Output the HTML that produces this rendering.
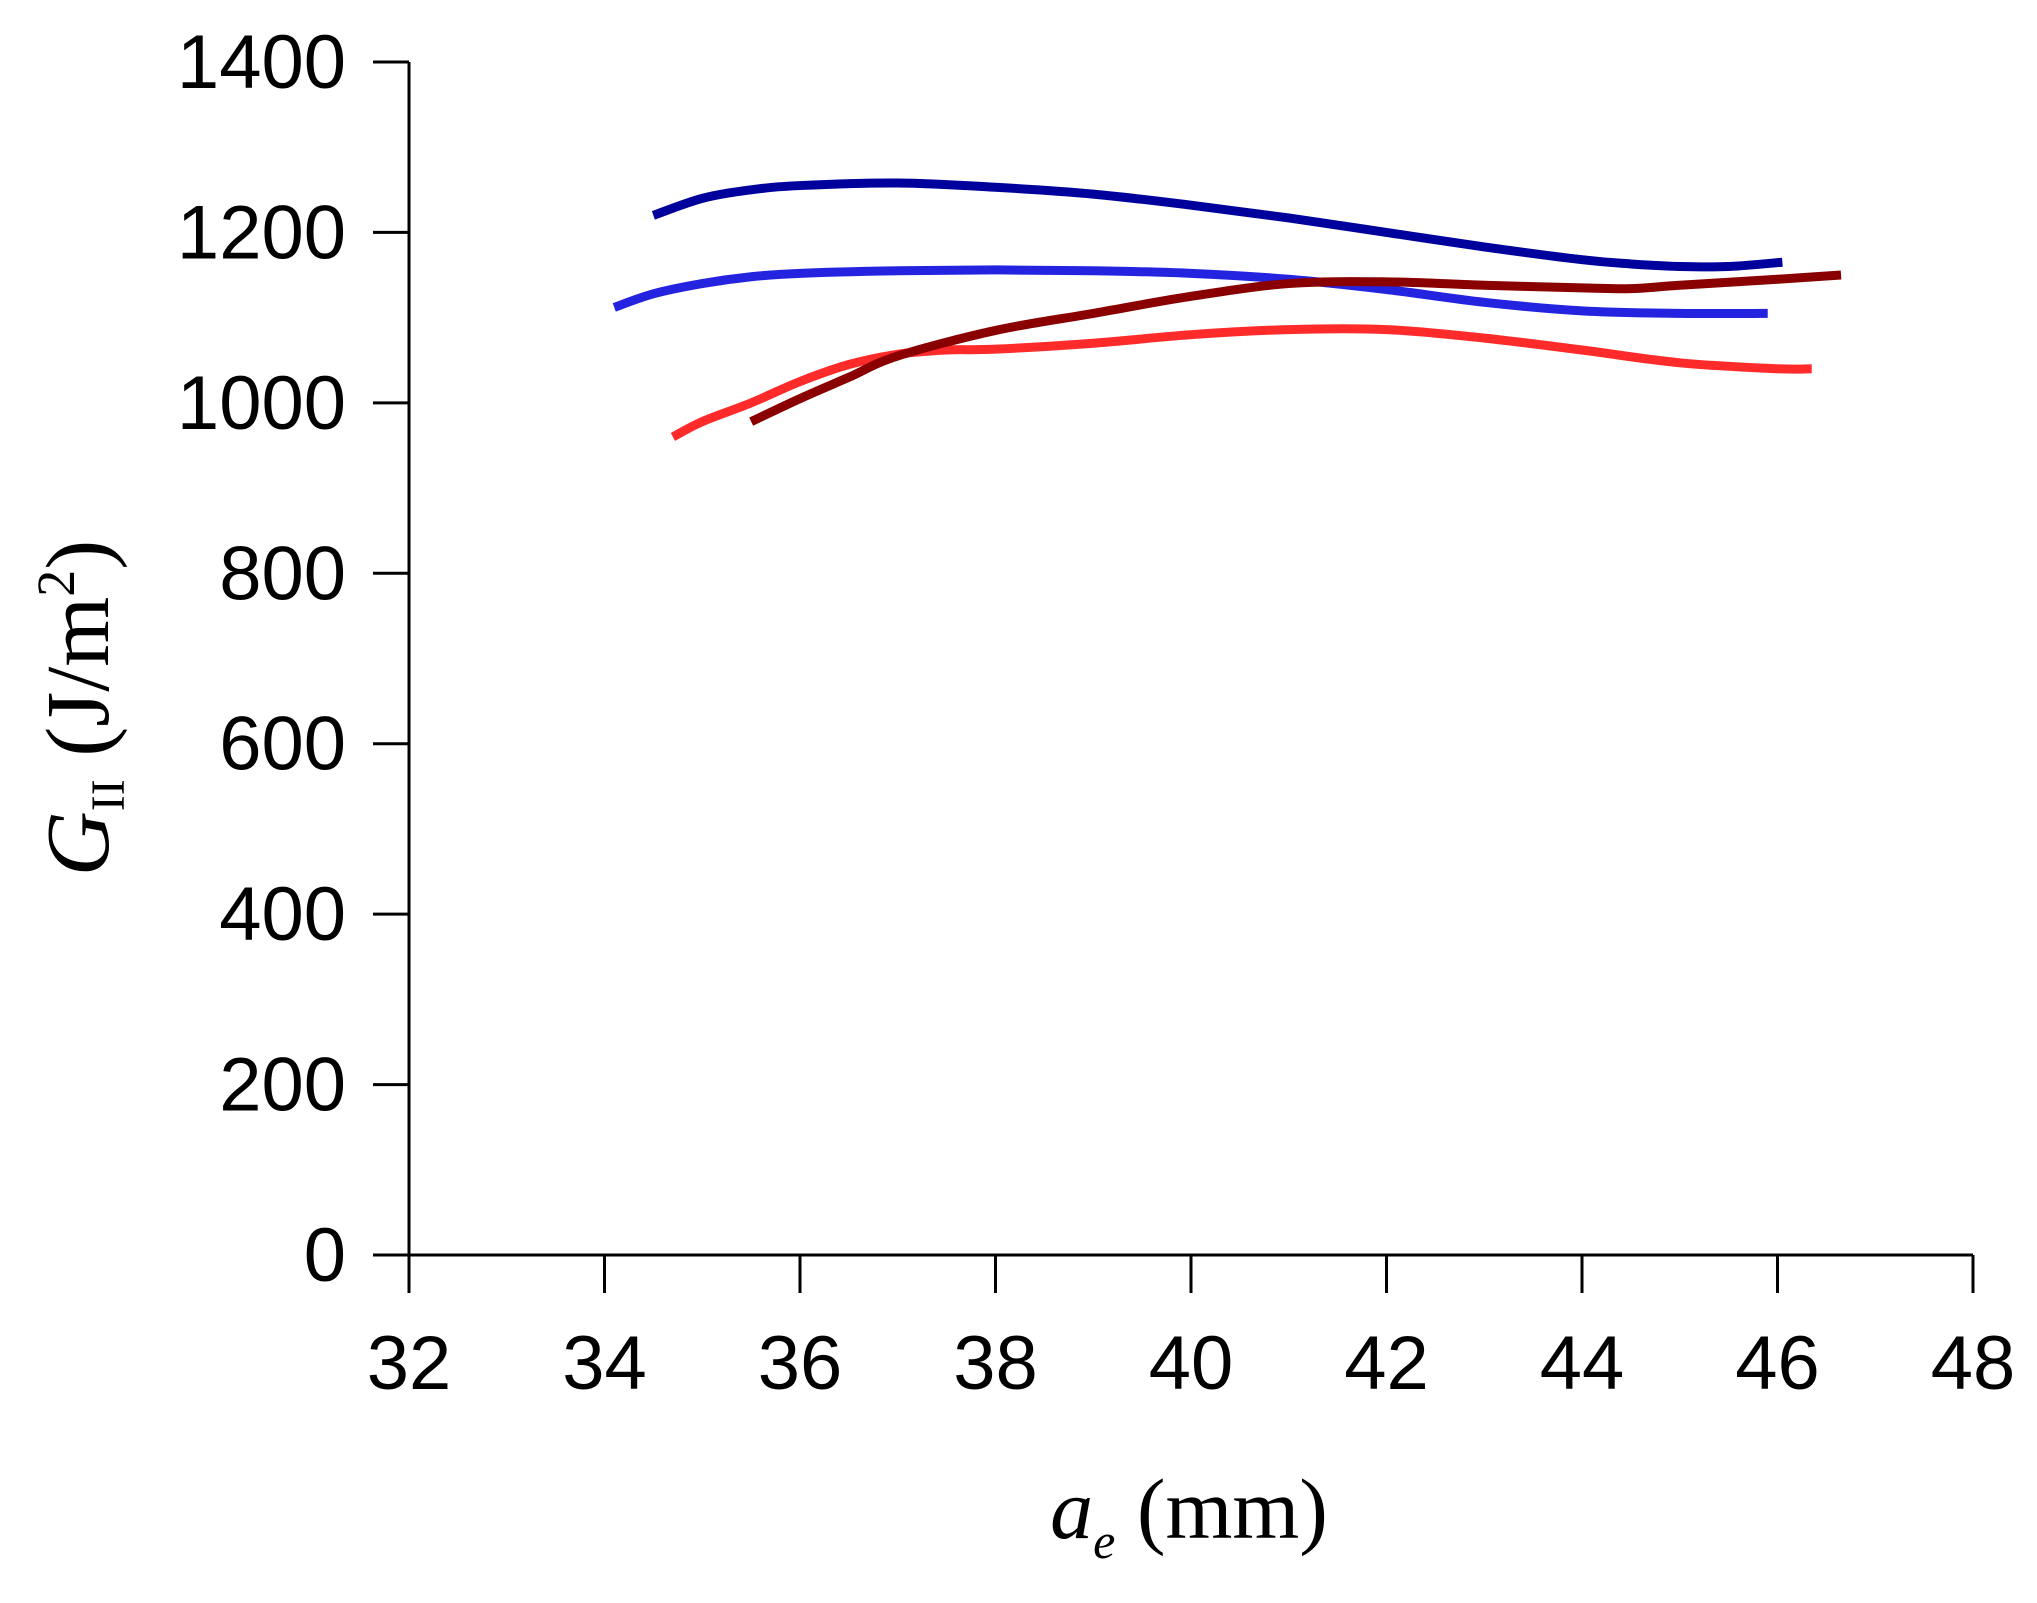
<!DOCTYPE html>
<html><head><meta charset="utf-8"><style>
html,body{margin:0;padding:0;background:#fff;}
svg{display:block;}
</style></head><body>
<svg id="chart" width="2037" height="1603" viewBox="0 0 2037 1603" xmlns="http://www.w3.org/2000/svg">
<g id="axes"></g>
<g id="series"></g>
<text x="1189" y="1538" text-anchor="middle" font-family="Liberation Serif, serif" font-size="86"><tspan font-style="italic">a</tspan><tspan font-style="italic" font-size="50" dy="20">e</tspan><tspan dy="-20"> (mm)</tspan></text>
<text transform="translate(108,708) rotate(-90)" text-anchor="middle" font-family="Liberation Serif, serif" font-size="90"><tspan font-style="italic">G</tspan><tspan font-size="48" dy="16">II</tspan><tspan dy="-16"> (J/m</tspan><tspan font-size="54" dy="-34">2</tspan><tspan dy="34">)</tspan></text>
</svg>
<script>
const xTicks = [32,34,36,38,40,42,44,46,48];
const yTicks = [0,200,400,600,800,1000,1200,1400];
const darkBlueX = [34.5,35,35.5,36,37,38,39,40,41,42,43,44,44.5,45,45.5,46.05];
const darkBlueY = [1220,1240,1250,1255,1258,1253,1245,1232,1217,1200,1183,1168,1163,1160,1160,1165];
const blueX = [34.1,34.5,35,35.5,36,37,38,39,40,41,42,43,44,45,45.9];
const blueY = [1112,1128,1140,1148,1152,1155,1156,1155,1152,1145,1133,1118,1108,1105,1105];
const redX = [34.7,35,35.5,36,36.5,37,37.5,38,39,40,41,42,43,44,45,46,46.35];
const redY = [960,978,1000,1025,1045,1057,1062,1063,1070,1080,1086,1086,1076,1062,1047,1040,1040];
const darkRedX = [35.5,36,36.5,37,38,39,40,41,42,43,44,44.5,45,46,46.65];
const darkRedY = [978,1005,1030,1055,1085,1105,1125,1140,1142,1138,1135,1134,1138,1145,1150];

const NS = "http://www.w3.org/2000/svg";
const X0 = 409, X1 = 1973, Y0 = 1255, Y1 = 62;
const sx = v => X0 + (v - 32) / 16 * (X1 - X0);
const sy = v => Y0 - v / 1400 * (Y0 - Y1);
const axes = document.getElementById('axes');
function mk(tag, attrs, parent){const e=document.createElementNS(NS,tag);for(const k in attrs)e.setAttribute(k,attrs[k]);parent.appendChild(e);return e;}

const ya = mk('line',{x1:X0,y1:Y1,x2:X0,y2:Y0,stroke:'#000','stroke-width':3},axes);


const xa = mk('line',{x1:X0,y1:Y0,x2:X1,y2:Y0,stroke:'#000','stroke-width':3},axes);



yTicks.forEach(v=>{
  const t = mk('line',{x1:X0-36,y1:sy(v),x2:X0,y2:sy(v),stroke:'#000','stroke-width':3},axes);
  
  
  const l = mk('text',{x:346,y:sy(v)+26,'text-anchor':'end','font-family':'Liberation Sans, sans-serif','font-size':76},axes);
  
  
  l.textContent = v;
});
xTicks.forEach(v=>{
  const t = mk('line',{x1:sx(v),y1:Y0,x2:sx(v),y2:Y0+38,stroke:'#000','stroke-width':3},axes);
  
  
  const l = mk('text',{x:sx(v),y:1389,'text-anchor':'middle','font-family':'Liberation Sans, sans-serif','font-size':76},axes);
  
  
  l.textContent = v;
});

function smoothPath(xs, ys){
  const p = xs.map((x,i)=>[sx(x),sy(ys[i])]);
  let d = 'M'+p[0][0]+','+p[0][1];
  for(let i=0;i<p.length-1;i++){
    const p0=p[Math.max(0,i-1)],p1=p[i],p2=p[i+1],p3=p[Math.min(p.length-1,i+2)];
    const c1=[p1[0]+(p2[0]-p0[0])/6,p1[1]+(p2[1]-p0[1])/6];
    const c2=[p2[0]-(p3[0]-p1[0])/6,p2[1]-(p3[1]-p1[1])/6];
    d+=' C'+c1+' '+c2+' '+p2;
  }
  return d;
}
const series = document.getElementById('series');
function draw(xs, ys, color, name){
  const e = mk('path',{d:smoothPath(xs,ys),fill:'none',stroke:color,'stroke-width':9,'stroke-linecap':'butt'},series);
  
  
}
draw(blueX, blueY, '#2424e0', 'series-blue');
draw(redX, redY, '#ff2b2b', 'series-red');
draw(darkRedX, darkRedY, '#8a0000', 'series-dark-red');
draw(darkBlueX, darkBlueY, '#00009c', 'series-dark-blue');
</script>
</body></html>
